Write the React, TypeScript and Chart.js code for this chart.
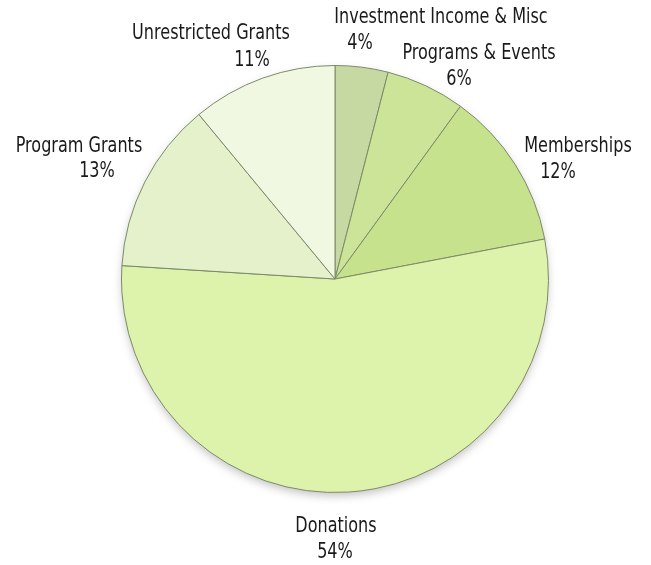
import React, { useEffect, useRef } from "react";
import { Chart, registerables } from "chart.js";

Chart.register(...registerables);

const categories = [
  "Investment Income & Misc",
  "Programs & Events",
  "Memberships",
  "Donations",
  "Program Grants",
  "Unrestricted Grants",
];
const values = [4, 6, 12, 54, 13, 11];
const sliceColors = ["#c6d9a2", "#cbe498", "#c6e28c", "#ddf2aa", "#e4f1cb", "#f1f8e1"];
const labelLines = [
  ["Investment Income & Misc", "4%"],
  ["Programs & Events", "6%"],
  ["Memberships", "12%"],
  ["Donations", "54%"],
  ["Program Grants", "13%"],
  ["Unrestricted Grants", "11%"],
];
// label anchor positions (centre of each text line)
const labelPos = [
  [[441, 18], [360, 44]],
  [[479, 54], [459, 80]],
  [[578, 147], [558, 173]],
  [[336, 527], [335, 553]],
  [[79, 147], [97, 172]],
  [[211, 34], [252, 61]],
];

function shade(hex: string, f: number) {
  const n = parseInt(hex.slice(1), 16);
  let r = (n >> 16) & 255, g = (n >> 8) & 255, b = n & 255;
  if (f >= 0) {
    r = Math.round(r + (255 - r) * f);
    g = Math.round(g + (255 - g) * f);
    b = Math.round(b + (255 - b) * f);
  } else {
    r = Math.round(r * (1 + f));
    g = Math.round(g * (1 + f));
    b = Math.round(b * (1 + f));
  }
  return `rgb(${r},${g},${b})`;
}

const labelPlugin = {
  id: "sliceLabels",
  afterDraw(chart: any) {
    const ctx = chart.ctx;
    ctx.save();
    ctx.fillStyle = "#1a1a1a";
    ctx.font = '21px "DejaVu Sans Condensed", "Liberation Sans", sans-serif';
    ctx.textAlign = "center";
    ctx.textBaseline = "middle";
    labelLines.forEach((lines, i) => {
      lines.forEach((t, j) => {
        const p = labelPos[i][j];
        ctx.save();
        ctx.translate(p[0], p[1]);
        ctx.scale(0.85, 1);
        ctx.fillText(t, 0, 0);
        ctx.restore();
      });
    });
    ctx.restore();
  },
};

const shadowPlugin = {
  id: "pieShadow",
  beforeDatasetsDraw(chart: any) {
    const meta = chart.getDatasetMeta(0);
    const a = meta.data[0];
    if (!a) return;
    const ctx = chart.ctx;
    ctx.save();
    ctx.shadowColor = "rgba(0,0,0,0.25)";
    ctx.shadowBlur = 10;
    ctx.shadowOffsetY = 4;
    ctx.fillStyle = "#ffffff";
    ctx.beginPath();
    ctx.arc(a.x, a.y, a.outerRadius - 1, 0, Math.PI * 2);
    ctx.fill();
    ctx.restore();
  },
};

export default function App() {
  const ref = useRef<HTMLCanvasElement>(null);
  useEffect(() => {
    if (!ref.current) return;
    const chart = new Chart(ref.current, {
      type: "pie",
      data: {
        labels: categories,
        datasets: [
          {
            data: values,
            backgroundColor: (c: any) => {
              const base = sliceColors[c.dataIndex];
              const el = c.chart.getDatasetMeta(0).data[c.dataIndex] as any;
              if (!el || !el.outerRadius) return base;
              const g = c.chart.ctx.createRadialGradient(el.x, el.y, 0, el.x, el.y, el.outerRadius);
              g.addColorStop(0, shade(base, 0.15));
              g.addColorStop(0.8, base);
              g.addColorStop(0.95, base);
              g.addColorStop(1, shade(base, -0.08));
              return g;
            },
            borderColor: "#7d8a6a",
            borderWidth: 1,
            hoverOffset: 0,
          },
        ],
      },
      options: {
        animation: false,
        responsive: true,
        maintainAspectRatio: false,
        rotation: 0,
        layout: { padding: { top: 65, bottom: 72, left: 121, right: 102 } },
        plugins: {
          legend: { display: false },
          tooltip: { enabled: false },
        },
      },
      plugins: [shadowPlugin, labelPlugin],
    });
    return () => chart.destroy();
  }, []);
  return (
    <div style={{ position: "absolute", left: 0, top: 0, width: 651, height: 565, background: "#ffffff" }}>
      <canvas ref={ref} />
    </div>
  );
}
